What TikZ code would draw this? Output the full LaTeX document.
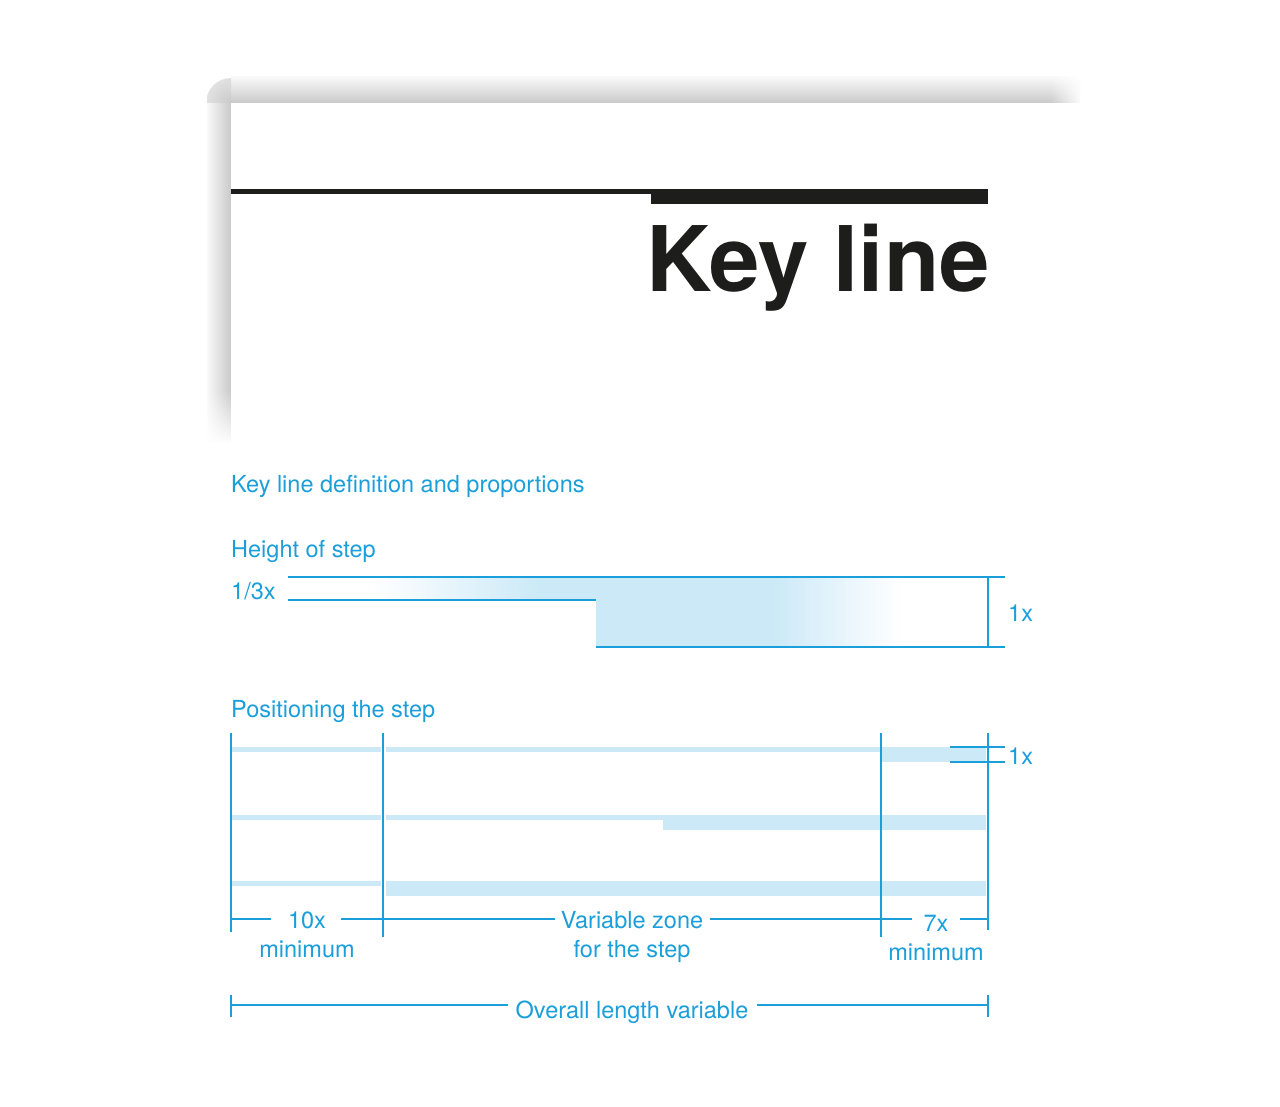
\documentclass[tikz,border=0pt]{standalone}
\usepackage{fontspec}
\setmainfont{TeX Gyre Heros}
\usetikzlibrary{fadings}
\definecolor{kblue}{HTML}{1B9FDA}
\definecolor{klight}{HTML}{CBE9F7}
\definecolor{kblack}{HTML}{1D1D1B}
\tikzfading[name=fadeinright, left color=transparent!100, right color=transparent!0]
\tikzfading[name=fadeindown, top color=transparent!100, bottom color=transparent!0]
\begin{document}
\begin{tikzpicture}[x=1pt,y=-1pt,
  bl/.style={draw=kblue, line width=1.5pt},
  casing/.style={draw=white, line width=6pt},
  band/.style={fill=klight},
  lbl/.style={text=kblue, font=\fontsize{23.5}{28}\selectfont, inner sep=0pt},
]
\path[use as bounding box, fill=white] (0,0) rectangle (1280,1107);

% ---------- page shadow ----------
\shade[top color=gray!5, bottom color=gray!42] (231,77) rectangle (1080,103);
\shade[left color=gray!5, right color=gray!42] (207,103) rectangle (231,442);
\begin{scope}
  \clip (207,77) rectangle (231,103);
  \clip (231,103) circle (25);
  \shade[inner color=gray!42, outer color=gray!5] (231,103) circle (50);
\end{scope}
\fill[white, path fading=fadeinright] (1050,74) rectangle (1082,104);
\fill[white, path fading=fadeindown] (204,390) rectangle (232,444);
\fill[white] (231,103) rectangle (1100,450);

% ---------- key line sample ----------
\fill[kblack] (231,189.5) rectangle (652,194.5);
\fill[kblack] (651,189.5) rectangle (988,204.5);
\node[anchor=base west, inner sep=0pt, text=kblack,
      font=\fontsize{90.5}{100}\selectfont\bfseries] (title) at (646,292) {Key line};

% ---------- headings ----------
\node[lbl, anchor=base west] (h1) at (231,492) {Key line definition and proportions};
\node[lbl, anchor=base west] (h2) at (231,557) {Height of step};
\node[lbl, anchor=base west] (h3) at (231,599) {1/3x};
\node[lbl, anchor=base west] (h4) at (231,717) {Positioning the step};

% ---------- height of step ----------
\begin{scope}
  \clip (288,577) -- (990,577) -- (990,647) -- (596,647) -- (596,600) -- (288,600) -- cycle;
  \shade[left color=white, right color=klight] (372,576) rectangle (540,648);
  \fill[klight] (539.5,576) rectangle (772.5,648);
  \shade[left color=klight, right color=white] (772,576) rectangle (902,648);
\end{scope}
\coordinate (s1) at (288,577);
\coordinate (s2) at (1005,577);
\coordinate (s3) at (288,600);
\coordinate (s4) at (596,600);
\coordinate (s5) at (596,647);
\coordinate (s6) at (1005,647);
\coordinate (d1) at (988,577);
\coordinate (d2) at (988,647);
\draw[bl] (s1) -- (s2);
\draw[bl] (s3) -- (s4);
\draw[bl, line width=2pt] (s5) -- (s6);
\draw[bl] (d1) -- (d2);
\node[lbl, anchor=base west] (one1) at (1008,621) {1x};

% ---------- positioning the step ----------
% row 1
\fill[band] (231,747) rectangle (880,752);
\fill[band] (881,747) rectangle (986,762);
% row 2
\fill[band] (231,815) rectangle (663,820);
\fill[band] (663,815) rectangle (986,830);
% row 3
\fill[band] (231,881) rectangle (381,886);
\fill[band] (385,881) rectangle (986,896);

\coordinate (v1t) at (231,733); \coordinate (v1b) at (231,932);
\coordinate (v2t) at (383,733); \coordinate (v2b) at (383,937);
\coordinate (v3t) at (881,733); \coordinate (v3b) at (881,937);
\coordinate (v4t) at (988,733); \coordinate (v4b) at (988,930);
\draw[casing, line width=5pt] (383,745) -- (383,898);
\draw[bl] (v1t) -- (v1b);
\draw[bl] (v2t) -- (v2b);
\draw[bl] (v3t) -- (v3b);
\draw[bl] (v4t) -- (v4b);

% 1x marker
\coordinate (m1) at (950,747); \coordinate (m2) at (1005,747);
\coordinate (m3) at (950,762); \coordinate (m4) at (1005,762);
\draw[bl] (m1) -- (m2);
\draw[bl] (m3) -- (m4);
\node[lbl, anchor=base west] (one2) at (1008,764) {1x};

% dimension line
\node[lbl, anchor=base] (t10) at (307,928) {10x};
\node[lbl, anchor=base] (t10b) at (307,957) {minimum};
\node[lbl, anchor=base] (tvz) at (632,928) {Variable zone};
\node[lbl, anchor=base] (tvzb) at (632,957) {for the step};
\node[lbl, anchor=base] (t7) at (936,931) {7x};
\node[lbl, anchor=base] (t7b) at (936,960) {minimum};
\draw[bl] (231,919) -- (271,919);
\draw[bl] (341,919) -- (555,919);
\draw[bl] (710,919) -- (912,919);
\draw[bl] (960,919) -- (988,919);

% overall
\node[lbl, anchor=base] (tov) at (632,1018) {Overall length variable};
\draw[bl] (231,995) -- (231,1017);
\draw[bl] (988,995) -- (988,1017);
\draw[bl] (231,1005) -- (508,1005);
\draw[bl] (757,1005) -- (988,1005);
\end{tikzpicture}
\end{document}
